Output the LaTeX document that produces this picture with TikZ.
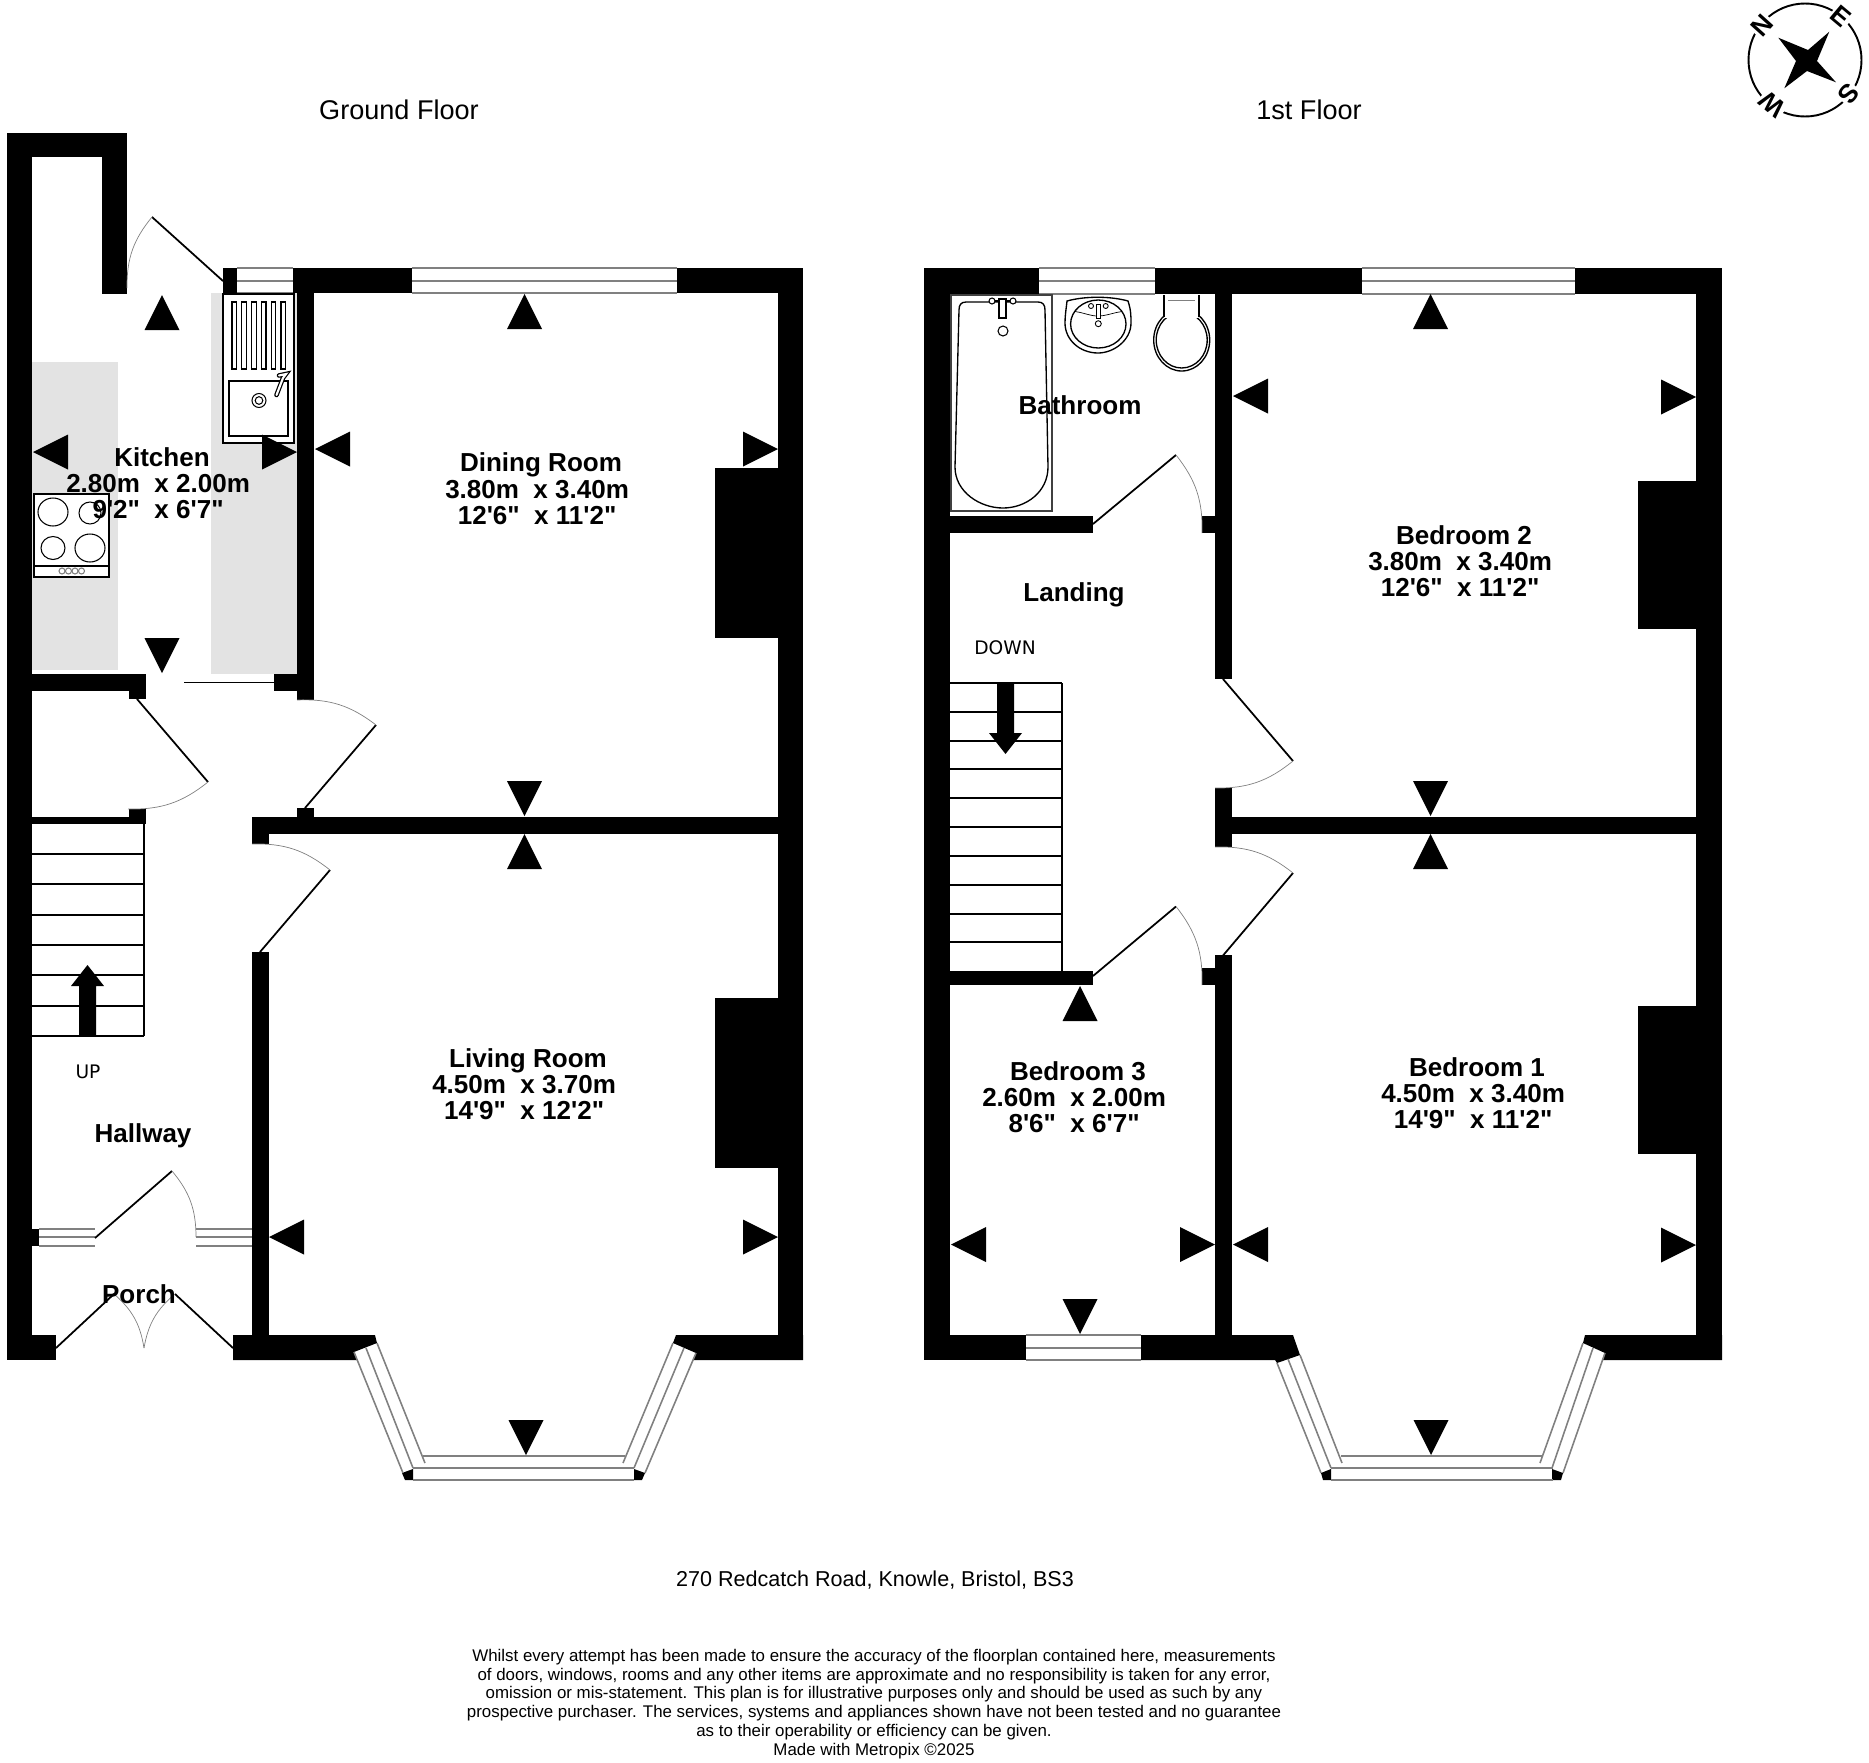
\documentclass[tikz,border=0pt]{standalone}
\usepackage{fontspec}
\setmainfont{Liberation Sans}[Ligatures = TeXOff]
\newfontfamily\stairfont{DejaVu Sans}
\definecolor{counter}{HTML}{E3E3E3}
\definecolor{glass}{HTML}{808080}
\newcommand{\sizes}[2]{#1\kern2.2pt\\#2\kern2.2pt}
\tikzset{
    room/.style = {font = \bfseries\fontsize{7.4}{7.4}\selectfont, align = center, inner sep = 0pt},
    heading/.style = {font = \fontsize{7.7}{8}\selectfont, inner sep = 0pt},
    stairtext/.style = {font = \stairfont\fontsize{5.3}{6}\selectfont, inner sep = 0pt},
    pane/.style = {draw = glass, line width = 0.45pt},
    leaf/.style = {draw = black, line width = 0.5pt},
    swing/.style = {draw = glass, line width = 0.2pt},
    tread/.style = {draw = black, line width = 0.36pt},
    fitting/.style = {draw = black, line width = 0.3pt},
    compassletter/.style = {font = \bfseries\fontsize{7.4}{8}\selectfont, fill = white, inner sep = 0.4pt}
}
\begin{document}
\begin{tikzpicture}[x = 0.01cm, y = -0.01cm]
    \useasboundingbox (0,0) rectangle (1869,1763);
    \fill[counter] (32,362) rectangle (118,670);
    \fill[counter] (211,293) rectangle (297,674);
    % walls
    \foreach \xa/\ya/\xb/\yb in {7/133/32/1360, 7/133/127/157, 102/133/127/294, 223/268/237/293,
        293/268/412/293, 297/268/314/700, 677/268/803/293, 778/268/803/1360, 7/1335/56/1360,
        252/817/778/834, 252/817/269/844, 297/808/314/817, 252/952/269/1360, 32/674/146/691,
        129/674/146/699, 274/674/297/691, 129/809/146/824, 32/817/146/824, 32/1229/39/1246,
        715/468/778/638, 715/998/778/1168,
        924/268/950/1360, 924/268/1039/294, 1155/268/1362/294, 1575/268/1722/294, 1696/268/1722/1360,
        1215/268/1232/679, 950/516/1093/533, 1202/516/1215/533, 950/971/1093/985, 1202/968/1215/985,
        1215/788/1232/847, 1232/817/1696/834, 1215/955/1232/1360, 924/1335/1026/1360,
        1638/481/1696/629, 1638/1006/1696/1154}
        \fill (\xa,\ya) rectangle (\xb,\yb);
    \fill (233,1335) -- (375,1335) -- (377,1343) -- (354,1352) -- (357,1360) -- (233,1360) -- cycle;
    \fill (803,1335) -- (676,1335) -- (673,1343) -- (696,1353) -- (693,1360) -- (803,1360) -- cycle;
    \fill (1141,1335) -- (1293,1335) -- (1300,1355) -- (1277,1363) -- (1275,1360) -- (1141,1360) -- cycle;
    \fill (1722,1335) -- (1585,1335) -- (1583,1343) -- (1605,1353) -- (1602,1360) -- (1722,1360) -- cycle;
    \fill (402,1473) -- (413,1469) -- (413,1480) -- (405,1480) -- cycle;
    \fill (634,1469) -- (645,1473) -- (642,1480) -- (634,1480) -- cycle;
    \fill (1321,1473) -- (1331,1469) -- (1331,1480) -- (1323,1480) -- cycle;
    \fill (1552,1469) -- (1563,1473) -- (1561,1480) -- (1552,1480) -- cycle;
    % windows
    \foreach \xa/\xb/\ya/\yb/\yc in {237/293/268/281/293, 412/677/268/281/293, 39/95/1229/1237/1246,
        196/252/1229/1237/1246, 1039/1155/268/281/294, 1362/1575/268/281/294, 1026/1141/1335/1348/1360}
        \draw[pane] (\xa,\ya) -- (\xb,\ya) (\xa,\yb) -- (\xb,\yb) (\xa,\yc) -- (\xb,\yc);
    \draw[pane] (354,1352) -- (403,1473) (366,1348) -- (413,1468) (377,1343) -- (425,1463);
    \draw[pane] (423,1456) -- (625,1456) (413,1468) -- (634,1468) (413,1480) -- (634,1480);
    \draw[pane] (645,1473) -- (696,1353) (634,1468) -- (684,1348) (623,1463) -- (673,1343);
    \draw[pane] (1277,1363) -- (1321,1473) (1288,1359) -- (1331,1468) (1300,1355) -- (1342,1463);
    \draw[pane] (1341,1456) -- (1543,1456) (1331,1468) -- (1553,1468) (1331,1480) -- (1553,1480);
    \draw[pane] (1563,1473) -- (1605,1353) (1552,1468) -- (1593,1348) (1540,1463) -- (1583,1343);
    % doors
    \draw[leaf] (223,281) -- (152,217);
    \draw[swing] (152,217) to[bend right = 20] (127,288);
    \draw[leaf] (137,699) -- (208,782);
    \draw[swing] (208,782) to[bend left = 20] (128,809);
    \draw[leaf] (305,808) -- (376,725);
    \draw[swing] (376,725) to[bend right = 20] (297,700);
    \draw[leaf] (260,952) -- (330,870);
    \draw[swing] (330,870) to[bend right = 20] (252,844);
    \draw[leaf] (95,1238) -- (172,1171);
    \draw[swing] (172,1171) to[bend left = 20] (196,1237);
    \draw[leaf] (56,1348) -- (114,1294);
    \draw[swing] (114,1294) to[bend left = 20] (144,1348);
    \draw[leaf] (233,1348) -- (175,1294);
    \draw[swing] (175,1294) to[bend right = 20] (144,1348);
    \draw[line width = 0.55pt] (184,682.5) -- (274,682.5);
    \draw[leaf] (1093,524) -- (1176,455);
    \draw[swing] (1176,455) to[bend left = 20] (1202,533);
    \draw[leaf] (1093,976) -- (1176,906.5);
    \draw[swing] (1176,906.5) to[bend left = 20] (1202,985);
    \draw[leaf] (1223,679) -- (1293,761);
    \draw[swing] (1293,761) to[bend left = 20] (1215,788);
    \draw[leaf] (1223,955.5) -- (1293,873);
    \draw[swing] (1293,873) to[bend right = 20] (1215,847);
    % stairs
    \foreach \y in {854, 884, 915, 945, 975, 1006, 1036}
        \draw[tread] (32,\y) -- (144,\y);
    \draw[tread] (144,824) -- (144,1036);
    \fill (79,1036) -- (79,986) -- (71,986) -- (87.5,965) -- (104,986) -- (96,986) -- (96,1036) -- cycle;
    \foreach \y in {683, 712, 741, 769, 798, 827, 856, 885, 914, 942}
        \draw[tread] (950,\y) -- (1062,\y);
    \draw[tread] (1062,683) -- (1062,971);
    \fill (997,683) -- (997,733) -- (989,733) -- (1005.5,754) -- (1022,733) -- (1014,733) -- (1014,683) -- cycle;
    % sink
    \draw[fitting, fill = white, line width = 0.5pt] (223,294) rectangle (294,443);
    \foreach \x in {232, 241.8, 251.6, 261.4, 271.2, 281}
        \draw[fitting] (\x,302) rectangle ++(4.6,67);
    \draw[fitting] (229,381) rectangle (288,436);
    \draw[fitting] (259,400.5) circle (7) (259,400.5) circle (3.8);
    \draw[line width = 1.3pt, line cap = round] (276.5,395) -- (283,378) -- (286,374) -- (279,375.5);
    \draw[white, line width = 0.6pt, line cap = round] (276.5,395) -- (283,378) -- (286,374) -- (279,375.5);
    % cooker
    \draw[fitting, fill = white, line width = 0.4pt] (34,494) rectangle (109,577);
    \draw[fitting] (34,566) -- (109,566);
    \draw[fitting] (53,512) ellipse (15 and 14) (90,513) ellipse (11 and 11);
    \draw[fitting] (53,548) ellipse (12 and 11.5) (90,548) ellipse (15 and 14);
    \foreach \x in {62, 68.5, 75, 81.5}
        \draw[fitting, draw = glass] (\x,571) circle (3);
    % bath
    \draw[draw = black!75, line width = 0.35pt] (951,295) rectangle (1052,511);
    \draw[fitting, line width = 0.38pt] (1003,302) -- (966,302) .. controls (961,302) and (959,305) .. (959,310)
        -- (955,467) .. controls (955,492) and (980,508) .. (1003,508) .. controls (1026,508) and (1048,492) .. (1048,467)
        -- (1045,310) .. controls (1045,305) and (1043,302) .. (1038,302) -- cycle;
    \draw[fitting, fill = white] (992,301) circle (3) (1013,301) circle (3) (1003,331) circle (5);
    \draw[fitting, line width = 0.6pt] (995,301) -- (1010,301);
    \draw[fitting, fill = white] (999,299) rectangle (1006,318);
    % basin
    \draw[fitting, line width = 0.38pt] (1067,301) .. controls (1085,296) and (1110,296) .. (1128,301)
        .. controls (1131,310) and (1131,316) .. (1131,323) .. controls (1131,340) and (1114,353) .. (1098,353)
        .. controls (1080,353) and (1065,340) .. (1065,323) .. controls (1065,316) and (1066,310) .. (1067,301) -- cycle;
    \draw[fitting, line width = 0.38pt] (1098.3,324) ellipse (27.7 and 24);
    \draw[fitting, line width = 0.2pt] (1075,311.5) .. controls (1085,313) and (1090,316) .. (1098,316) .. controls (1106,316) and (1112,313) .. (1122,311.5);
    \draw[fitting, fill = white, line width = 0.25pt] (1091,306) circle (2.5) (1105.7,306) circle (2.5) (1098.3,323.7) circle (3);
    \draw[fitting, fill = white, line width = 0.25pt] (1096,304) rectangle (1100.7,318);
    % toilet
    \draw[fitting, line width = 0.38pt] (1181.7,340) ellipse (28 and 31) (1181.7,340) ellipse (25.5 and 28);
    \fill[white] (1165,294) rectangle (1198,318);
    \draw[fitting, line width = 0.38pt] (1164,295) -- (1164,316.7) (1199,295) -- (1199,316.7);
    \draw[draw = glass, line width = 0.35pt] (1168,300.7) -- (1195,300.7);
    % view markers
    \foreach \x/\y in {162/295, 524.5/294, 524.5/834, 1430.5/294, 1430.5/834, 1080/986}
        \fill (\x,\y) -- ++(-17.5,35) -- ++(35,0) -- cycle;
    \foreach \x/\y in {162/673, 524.5/816, 526/1455, 1430.5/816, 1431/1455, 1080/1334}
        \fill (\x,\y) -- ++(-17.5,-35) -- ++(35,0) -- cycle;
    \foreach \x/\y in {33/452, 315/449, 269/1237, 1233/396, 951/1244.5, 1233/1244.5}
        \fill (\x,\y) -- ++(35,-17.5) -- ++(0,35) -- cycle;
    \foreach \x/\y in {297/452, 778/449, 778/1237, 1696/397, 1696/1245, 1215/1244.5}
        \fill (\x,\y) -- ++(-35,-17.5) -- ++(0,35) -- cycle;
    % compass
    \draw[line width = 0.55pt] (1805,60) circle (56.5);
    \fill (1778.3,37.7) -- (1808,50) -- (1829.3,31.7) -- (1817,61) -- (1836,82.3) -- (1807,71) -- (1784.3,88.3) -- (1796,61) -- cycle;
    \node[compassletter, rotate = 48] (N) at (1762,25.5) {N};
    \node[compassletter, rotate = -40] (E) at (1841,16.5) {E};
    \node[compassletter, rotate = -130] (S) at (1849,94) {S};
    \node[compassletter, rotate = 140] (W) at (1772,104.5) {W};
    % labels
    \node[heading] (G) at (399,110) {Ground Floor};
    \node[heading] (F) at (1309,110) {1st Floor};
    \node[room] (K) at (162,483.6) {Kitchen\\\sizes{2.80m\ \ x 2.00m}{9'2"\ \ x 6'7"}};
    \node[room] (D) at (541,488.7) {Dining Room\\\sizes{3.80m\ \ x 3.40m}{12'6"\ \ x 11'2"}};
    \node[room] (L) at (528,1084) {Living Room\\\sizes{4.50m\ \ x 3.70m}{14'9"\ \ x 12'2"}};
    \node[room] (H) at (143,1135.5) {Hallway};
    \node[room] (P) at (139,1294) {Porch};
    \node[room] (BA) at (1080,405) {Bathroom};
    \node[room] (LA) at (1074,594.5) {Landing};
    \node[room] (B1) at (1477,1093) {Bedroom 1\\\sizes{4.50m\ \ x 3.40m}{14'9"\ \ x 11'2"}};
    \node[room] (B2) at (1464,561) {Bedroom 2\\\sizes{3.80m\ \ x 3.40m}{12'6"\ \ x 11'2"}};
    \node[room] (B3) at (1078,1097) {Bedroom 3\\\sizes{2.60m\ \ x 2.00m}{8'6"\ \ x 6'7"}};
    \node[stairtext] (UP) at (88,1072) {UP};
    \node[stairtext] (DN) at (1005,648) {DOWN};
    \node[font = \fontsize{6.13}{7}\selectfont, inner sep = 0pt] (A) at (875,1580.5) {270 Redcatch Road, Knowle, Bristol, BS3};
    \node[font = \fontsize{4.8}{5.35}\selectfont, align = center, inner sep = 0pt] (T) at (874,1704) {Whilst every attempt has been made to ensure the accuracy of the floorplan contained here, measurements\\
        of doors, windows, rooms and any other items are approximate and no responsibility is taken for any error,\\
        omission or mis-statement. This plan is for illustrative purposes only and should be used as such by any\\
        prospective purchaser. The services, systems and appliances shown have not been tested and no guarantee\\
        as to their operability or efficiency can be given.\\
        Made with Metropix ©2025};
\end{tikzpicture}
\end{document}
